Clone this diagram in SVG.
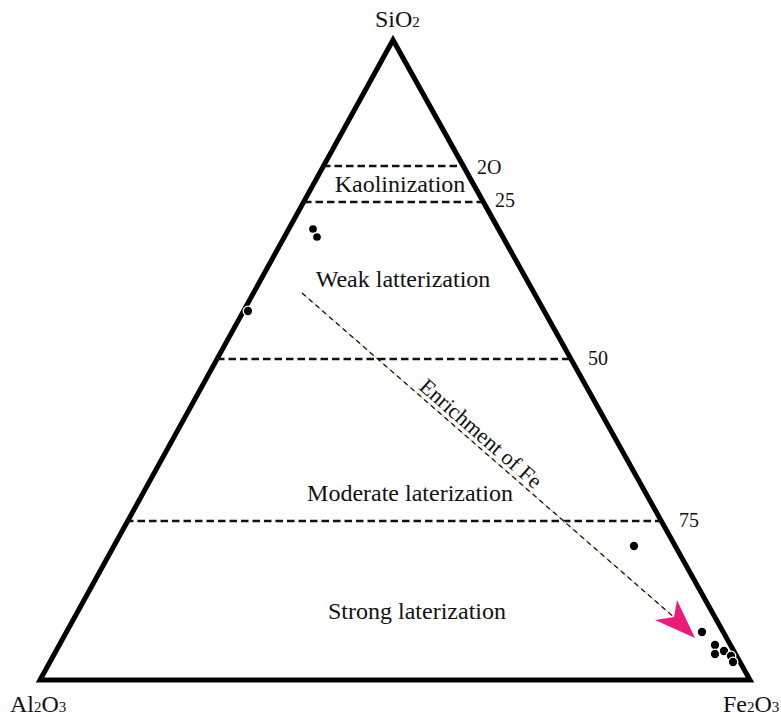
<svg xmlns="http://www.w3.org/2000/svg" width="781" height="717" viewBox="0 0 781 717">
<style>
text{font-family:"Liberation Serif","Times New Roman",serif;fill:#111}
.lbl{font-size:24px}
.zone{font-size:24px;text-anchor:middle}
.tick{font-size:20px}
.sub{font-size:15px}
.div{stroke:#111;stroke-width:2.5;stroke-dasharray:7.5 4;fill:none}
.dot{fill:#000;stroke:#fff;stroke-width:1.3}
</style>
<rect width="781" height="717" fill="#fff"/>
<g id="triangle">
<polygon points="40,680 393,40 750,680" fill="none" stroke="#000" stroke-width="5" stroke-linejoin="miter"/>
</g>
<g id="dividers">
<line class="div" x1="323" y1="166" x2="466" y2="166"/>
<line class="div" x1="304" y1="202" x2="481" y2="202"/>
<line class="div" x1="217" y1="359" x2="571" y2="359"/>
<line class="div" x1="126" y1="521" x2="661" y2="521"/>
</g>
<g id="tick-labels">
<text class="tick" x="477" y="174">2O</text>
<text class="tick" x="495" y="207">25</text>
<text class="tick" x="588" y="365">50</text>
<text class="tick" x="679" y="527">75</text>
</g>
<g id="vertex-labels">
<text class="lbl" x="375" y="27">SiO<tspan class="sub">2</tspan></text>
<text class="lbl" x="10" y="712">Al<tspan class="sub">2</tspan>O<tspan class="sub">3</tspan></text>
<text class="lbl" x="723" y="712">Fe<tspan class="sub">2</tspan>O<tspan class="sub">3</tspan></text>
</g>
<g id="zones">
<text class="zone" x="400" y="192">Kaolinization</text>
<text class="zone" x="403" y="287">Weak latterization</text>
<text class="zone" x="410" y="501">Moderate laterization</text>
<text class="zone" x="417" y="619">Strong laterization</text>
</g>
<g id="connectors">
<line x1="302" y1="293" x2="676" y2="619" stroke="#E8C08A" stroke-width="1"/>
<line x1="302" y1="293" x2="676" y2="619" stroke="#111" stroke-width="1.3" stroke-dasharray="5 4"/>
<path d="M677,600 L695,638 L655,620 L674,617 Z" fill="#EC1C7C"/>
<text font-size="22" transform="translate(418,388.5) rotate(41.1)">Enrichment of Fe</text>
</g>
<g id="points">
<circle class="dot" cx="313" cy="229" r="4.5"/>
<circle class="dot" cx="317" cy="237" r="4.5"/>
<circle class="dot" cx="248" cy="311" r="4.8"/>
<circle class="dot" cx="634" cy="546" r="4.8"/>
<circle class="dot" cx="702" cy="632" r="4.8"/>
<circle class="dot" cx="715" cy="645" r="4.8"/>
<circle class="dot" cx="715" cy="654" r="4.8"/>
<circle class="dot" cx="724" cy="651" r="4.8"/>
<circle class="dot" cx="731" cy="656" r="4.8"/>
<circle class="dot" cx="733" cy="662" r="4.8"/>
</g>
</svg>
